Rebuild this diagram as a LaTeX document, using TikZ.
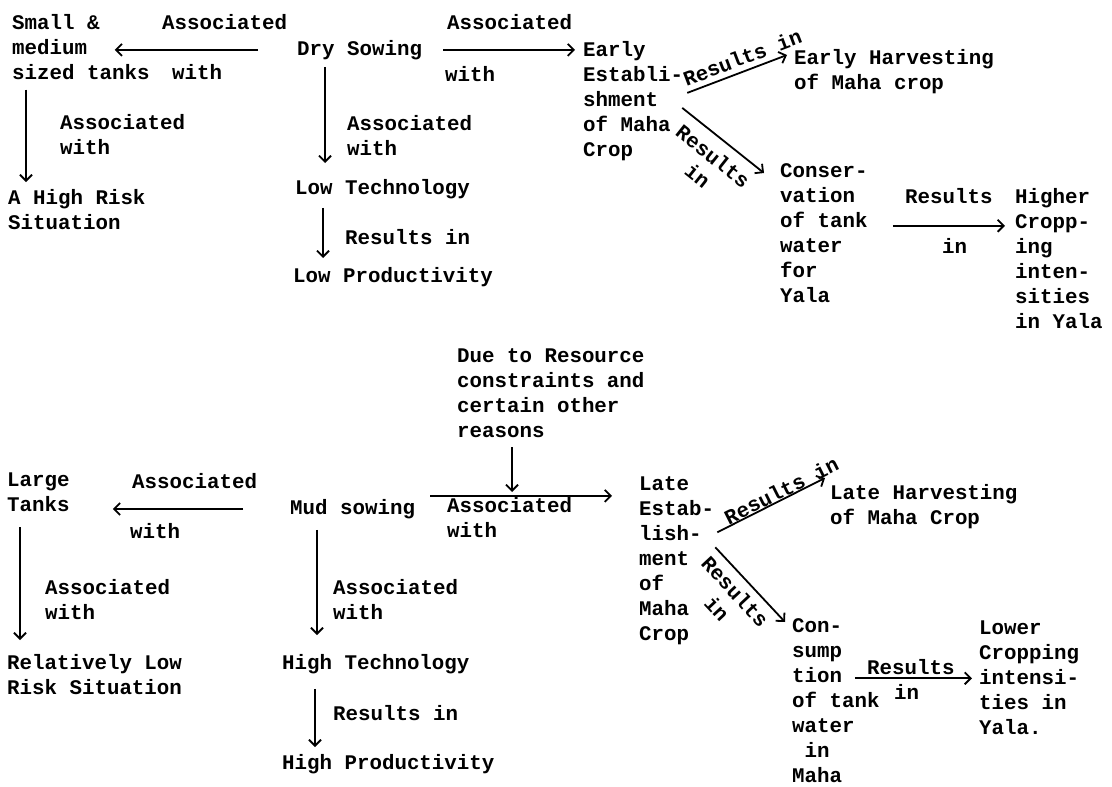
\documentclass[tikz,border=0pt]{standalone}
\usepackage{fontspec}
\setmonofont{Liberation Mono}
\usetikzlibrary{arrows.meta}
\tikzset{
  tw/.style={anchor=north west, inner sep=0pt, align=left,
             font=\ttfamily\bfseries\fontsize{20.8}{25}\selectfont},      % typed text
  arr/.style={draw=black, line width=1.8pt,
              -{Straight Barb[length=6pt,width=12pt]}},                    % arrow
  slab/.style={sloped, inner sep=2pt, align=center,
               font=\ttfamily\bfseries\fontsize{20.8}{25}\selectfont},     % slanted label
}

\begin{document}
\begin{tikzpicture}[x=1pt, y=-1pt]
  \useasboundingbox (0,0) rectangle (1112,787);
  % dry sowing half
  \node[tw] (small)  at (12,14)   {Small \&\\medium\\sized tanks};
  \node[tw] (dry)    at (297,40)  {Dry Sowing};
  \node[tw] (early)  at (583,41)  {Early\\Establi-\\shment\\of Maha\\Crop};
  \node[tw] (earlyh) at (794,49)  {Early Harvesting\\of Maha crop};
  \node[tw] (cons)   at (780,163) {Conser-\\vation\\of tank\\water\\for\\Yala};
  \node[tw] (higher) at (1015,188){Higher\\Cropp-\\ing\\inten-\\sities\\in Yala};
  \node[tw] (hrisk)  at (8,189)   {A High Risk\\Situation};
  \node[tw] (ltech)  at (295,179) {Low Technology};
  \node[tw] (lprod)  at (293,267) {Low Productivity};
  \node[tw] (t1a) at (162,14)  {Associated};
  \node[tw] (t1b) at (172,64)  {with};
  \node[tw] (t2a) at (447,14)  {Associated};
  \node[tw] (t2b) at (445,66)  {with};
  \node[tw] (t3)  at (60,114)  {Associated\\with};
  \node[tw] (t4)  at (347,115) {Associated\\with};
  \node[tw] (t5)  at (345,229) {Results in};
  \node[tw] (t6a) at (905,188) {Results};
  \node[tw] (t6b) at (942,238) {in};

  \draw[arr, shorten <=39pt, shorten >=-35pt] (dry.west) -- (dry.west -| small.east);
  \draw[arr, shorten <=21pt, shorten >=8pt] (dry.east) -- (dry.east -| early.west);
  \draw[arr, shorten <=10pt, shorten >=7pt] ([xshift=14pt]small.south west)
    -- ([xshift=14pt]small.south west |- hrisk.north);
  \draw[arr, shorten <=7pt, shorten >=16pt] ([xshift=28pt]dry.south west)
    -- ([xshift=28pt]dry.south west |- ltech.north);
  \draw[arr, shorten <=9pt, shorten >=9pt] ([xshift=28pt]ltech.south west)
    -- ([xshift=28pt]ltech.south west |- lprod.north);
  \draw[arr] ([shift={(4,-8)}]early.east) -- ([shift={(-7,6)}]earlyh.north west)
    node[slab, above=3pt, pos=0.6] (r1) {Results in};
  \draw[arr] ([shift={(-1,7)}]early.east) -- ([shift={(-16,10)}]cons.north west)
    node[slab, below=8pt, pos=0.52] (r2) {Results\\in};
  \draw[arr, shorten <=25pt, shorten >=10pt] ([yshift=7pt]cons.east)
    -- ([yshift=7pt]cons.east -| higher.west);

  % mud sowing half
  \node[tw] (due)    at (457,348) {Due to Resource\\constraints and\\certain other\\reasons};
  \node[tw] (large)  at (7,473)   {Large\\Tanks};
  \node[tw] (mud)    at (290,499) {Mud sowing};
  \node[tw] (late)   at (639,476) {Late\\Estab-\\lish-\\ment\\of\\Maha\\Crop};
  \node[tw] (lateh)  at (830,484) {Late Harvesting\\of Maha Crop};
  \node[tw] (consum) at (792,618) {Con-\\sump\\tion\\of tank\\water\\\hphantom{x}in\\Maha};
  \node[tw] (lower)  at (979,621) {Lower\\Cropping\\intensi-\\ties in\\Yala.};
  \node[tw] (lrisk)  at (7,654)   {Relatively Low\\Risk Situation};
  \node[tw] (htech)  at (282,654) {High Technology};
  \node[tw] (hprod)  at (282,754) {High Productivity};
  \node[tw] (m1a) at (132,473) {Associated};
  \node[tw] (m1b) at (130,523) {with};
  \node[tw] (m2)  at (447,497) {Associated\\with};
  \node[tw] (m3)  at (45,579)  {Associated\\with};
  \node[tw] (m4)  at (333,579) {Associated\\with};
  \node[tw] (m5)  at (333,705) {Results in};
  \node[tw] (m6a) at (867,659) {Results};
  \node[tw] (m6b) at (894,684) {in};

  \draw[arr, shorten <=10pt, shorten >=5pt] ([xshift=55pt]due.south west)
    -- ([xshift=55pt]due.south west |- m2.north);
  \draw[arr, shorten <=15pt, shorten >=27pt] ([yshift=13pt]mud.east)
    -- ([yshift=13pt]mud.east -| late.west);
  \draw[arr, shorten <=47pt, shorten >=43pt] (mud.west) -- (mud.west -| large.east);
  \draw[arr, shorten <=15pt, shorten >=14pt] ([xshift=13pt]large.south west)
    -- ([xshift=13pt]large.south west |- lrisk.north);
  \draw[arr, shorten <=11pt, shorten >=19pt] ([xshift=27pt]mud.south west)
    -- ([xshift=27pt]mud.south west |- htech.north);
  \draw[arr, shorten <=15pt, shorten >=7pt] ([xshift=33pt]htech.south west)
    -- ([xshift=33pt]htech.south west |- hprod.north);
  \draw[arr] ([shift={(3,-28)}]late.east) -- ([shift={(-5,-6)}]lateh.north west)
    node[slab, above, inner sep=0pt, pos=0.63] (r3) {Results in};
  \draw[arr] ([shift={(1,-13)}]late.east) -- ([shift={(-7,4)}]consum.north west)
    node[slab, below=5pt, pos=0.45] (r4) {Results\\in};
  \draw[arr, shorten <=-25pt, shorten >=7pt] ([yshift=22pt]consum.east)
    -- ([yshift=22pt]consum.east -| lower.west);
\end{tikzpicture}
\end{document}
